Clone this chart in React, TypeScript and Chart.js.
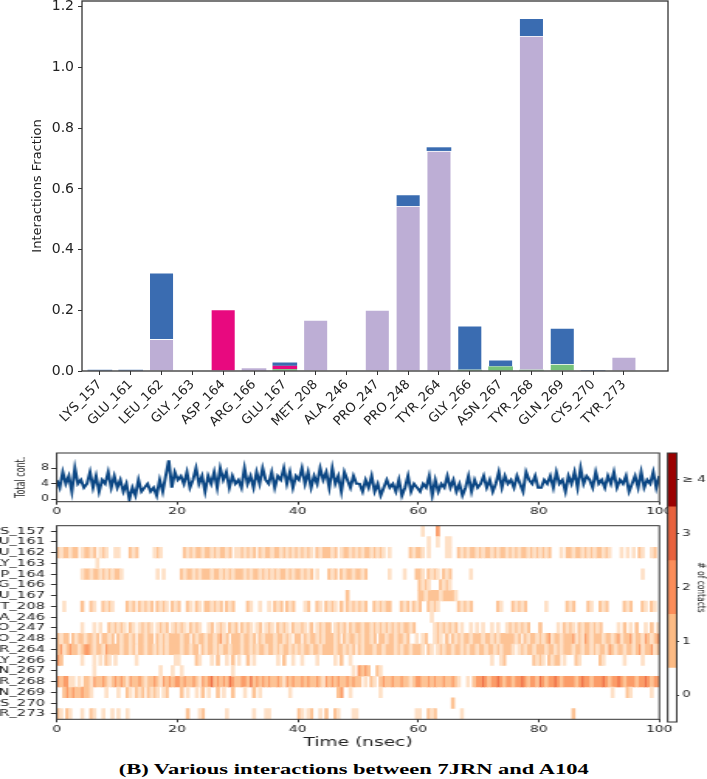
import React, { useEffect, useRef } from "react";
import { Chart, registerables } from "chart.js";
Chart.register(...registerables);

// ---------- Top panel: interaction fractions ----------
const residues = ["LYS_157", "GLU_161", "LEU_162", "GLY_163", "ASP_164", "ARG_166", "GLU_167", "MET_208", "ALA_246", "PRO_247", "PRO_248", "TYR_264", "GLY_266", "ASN_267", "TYR_268", "GLN_269", "CYS_270", "TYR_273"];
const hBonds = [0, 0, 0, 0, 0, 0, 0.006, 0, 0, 0, 0, 0, 0.004, 0.015, 0.004, 0.023, 0, 0];
const hydrophobic = [0, 0, 0.105, 0, 0, 0.009, 0, 0.168, 0, 0.201, 0.544, 0.725, 0, 0, 1.1, 0, 0, 0.046];
const ionic = [0, 0, 0, 0, 0.203, 0, 0.011, 0, 0, 0, 0, 0, 0, 0, 0, 0, 0, 0];
const waterBridges = [0.004, 0.004, 0.219, 0, 0, 0, 0.011, 0, 0, 0, 0.038, 0.012, 0.145, 0.022, 0.058, 0.119, 0.003, 0];
const fractionTicks = [0, 0.2, 0.4, 0.6, 0.8, 1.0, 1.2];

// ---------- Bottom panels: contact timeline ----------
const timeTicks = [0, 20, 40, 60, 80, 100];
const totalTicks = [0, 4, 8];
// total contacts, one value per 0.5 ns (A = 10)
const totalContacts =
  "5374628453 4736254736 3524031523 4231526A37 5647358462 6473857364 5384637485 4736584736 5847364857 3846275364 " +
  "4253624135 3425136243 2436152436 3524136253 4635247364 5364275463 3546374526 4738465374 5364735462 4637354736";

// per residue, one char per 0.5 ns: "." none, "a" brief contact, "1".."4" number of contacts
const E = "..........";
const contactRows = [
  [E, E, E, E, E, E, E, E, E, E, E, E, ".a....2...", E, E, E, E, E, E, E],
  [E, E, E, E, E, E, E, E, E, E, E, E, "...a..a..a", "a.........", E, E, E, E, E, E],
  ["1a11a11.a1", "1a1.a1a..a", "a...1a1...", "..a1a.....", "..1a1a11a1", "1a1a11a1.a", "a1a1a1.1a1", "1a11a1a1a1", "a1a1a.1a11", "1a1.a11a1a",
   "1a11a1a1a.", "a......1a1", "1a.a.....a", "a..1a1a11a", "1a11a1a11a", "1a1a11a1a1", "a1a1...a.1", "1a11a1a1a1", "1a1a...a.a", ".a.1a..a1."],
  [E, "...a......", E, E, E, E, E, E, E, E, E, E, E, E, E, E, E, E, E, E],
  ["........a1", "1a11a1a1a1", "1a........", "...a.a....", ".1a11a1a11", "1a11a1a1a1", "11a1a11a1a", "1a1a11a1a1", "1a1a1.a...", "1a1.1a11a1",
   "1a1.......", "a....a...1", "1a.1a1a.1a", "1......a..", E, E, E, E, E, "....a....."],
  [E, E, E, E, E, E, E, E, E, E, E, E, "1a1a...1a1", "a.........", E, E, E, E, E, E],
  [E, E, E, E, E, E, E, E, E, "......1...", E, E, "11a1111a11", "11a.......", E, E, E, E, E, E],
  ["..a.....1.", ".1a..1a1a.", "...1a1.1a1", "a1.1a1a.1a", "1..1a.1a.1", "1a1a1.1a1.", "...1a..a..", "a.1a1.1a1.", "..a1..1a.1", "a1a.1.1a1a",
   "1a1..1a1a1", "1...1a1.1a", "1..1a1a...", "...1a1a1..", "......1a..", ".1a1a1....", "..a......1", "a1....1a..", "1a1.....1a", "1...1a.1a."],
  [E, E, E, E, E, E, E, E, E, E, E, E, "....a.....", E, E, E, E, E, E, E],
  ["........a.", "..a.a..1a1", "a1a.1a.a1a", "1a.a1a1.a1", "a1a.1a1a..", "a1.a1a.1a1", ".1a1a.a1.a", "1a.1a1a.1a", "a1a.1.a1a1", "1.a1a1.1a1",
   "1a11a1a1a1", "a1a1a11a1.", ".....a1a1a", "1a1.a..a.a", ".a..a.a..a", "1a1a1a1...", "1.....a.1a", "1a.1a11a1a", "1.....a.1.", "a.1..a.1.a"],
  ["1a11.1a11a", "11a1.11a1.", "1a11a1.11a", "11.1a1a111", "1a11.1a11a", "11a12a1.11", "1a11a1.1a1", "11a11a1a.1", "1.1a11a1a1", "11a1.1a11a",
   "1a11a1.11a", "11a11a1..a", ".a1..a1a.1", ".1a1a11a11", "1a11a1a111", "11a1.1a11a", "1a12a11a11", "12a1a21a11", "1a11a12a11", "2a11a21a12"],
  ["12a1211a12", "21a11a2111", "1a11a1.11a", "11a1a1a111", "1a11a11.1a", "11a1a11a11", "1a11a1a11a", "11a1a11a1a", "1a11a11a11", "11a11a1a1.",
   "1a111a11a1", "11a1a11a11", "1a.1a.a1a1", "1a11a1a11a", "11a11a1a11", "1a.a1a11a1", "11a11a1a11", "1a11a11a1a", "11a21a11a1", "1a12a112a1"],
  ["21......a.", "..a.a.1a.a", "......a...", ".........a", "a.....1a..", ".a.1..a.1.", "a..1.a....", "...a.1..a.", ".a....a...", "..a.1..a..",
   E, E, E, E, "....a..a1.", "........1a", "1a.1a11.a.", "..1a......", "1a......a.", "....a....."],
  [E, "..a.......", E, "....a...a.", ".a........", "........a.", E, E, E, "........a.", "2121..1a..", E, E, E, E, E, E, E, E, E],
  ["2122aa.a.1", "1a21121a12", "121a21121a", "1121a21212", "2121121a21", "2312121321", "1221312121", "21121a2121", "12121121a2", "1212112121",
   "1.a.1a.121", "1211211a12", "2112121121", "121a..a.12", "2321223212", "2122321221", "3212232122", "2212322122", "2321223212", "2212232122"],
  ["..12121121", "1a....a...", "a..1a.1a1.", "1a1a.a1...", ".1.a..a.1.", "a..1.a..1.", "..a..1.a..", ".......a..", E, "...12..a..",
   ".......a..", E, E, E, E, E, E, E, "....a....1", "a......a.."],
  [E, E, E, E, E, E, E, E, E, E, E, E, E, ".1........", E, E, E, E, E, E],
  ["1a.1a...a.", ".1a..a..a.", "a..a......", E, "...1...a1.", "......a...", ".....a...a", "a.........", "1a.a1..a.1", "..1a....aa",
   E, ".........a", "a..1a1....", "....a.....", E, E, E, ".1........", E, E],
];
const contactLevels = ["0", "1", "2", "3", "\u2265 4"];

// ---------- layout helpers ----------
const W = 707;
const IW = 456; // internal width of the horizontally stretched lower canvases
const K = IW / W;

const framePlugin = {
  id: "frame",
  afterDraw(chart: any, _args: any, opts: any) {
    const { ctx, chartArea: a } = chart;
    ctx.save();
    ctx.strokeStyle = opts.color || "#333";
    ctx.lineWidth = opts.width || 1;
    ctx.strokeRect(a.left, a.top, a.right - a.left, a.bottom - a.top);
    ctx.restore();
  },
};

const fixSize = (size: number) => (scale: any) => {
  if (scale.isHorizontal()) scale.height = size;
  else scale.width = size;
  scale.paddingLeft = 0;
  scale.paddingRight = 0;
  scale.paddingTop = 0;
  scale.paddingBottom = 0;
};
const setTicks = (vals: number[]) => (scale: any) => {
  scale.ticks = vals.map((v) => ({ value: v }));
};

const heatColors: Record<string, string> = { a: "#fee0c6", "1": "#fdc395", "2": "#fb9c68", "3": "#ee7048", "4": "#a00000" };
const barColors = { hBonds: "#76c27a", hydrophobic: "#bdaed5", ionic: "#e8097f", water: "#3a6cb1" };
const colorbarColors = ["#ffffff", "#fdbb84", "#fc8d59", "#e8623e", "#9b0000"];

function parseRow(groups: string[]): string[] {
  const cells = new Array(200).fill(".");
  groups.forEach((g, gi) => {
    for (let k = 0; k < 10 && k < g.length; k++) cells[gi * 10 + k] = g[k];
  });
  return cells;
}

export default function App() {
  const topRef = useRef<HTMLCanvasElement>(null);
  const totRef = useRef<HTMLCanvasElement>(null);
  const heatRef = useRef<HTMLCanvasElement>(null);
  const cbRef = useRef<HTMLCanvasElement>(null);

  useEffect(() => {
    Chart.defaults.font.family = "'DejaVu Sans', sans-serif";
    Chart.defaults.color = "#222";
    const charts: Chart[] = [];
    const noPlug = { legend: { display: false }, tooltip: { enabled: false } };

    // ---- top stacked bar chart
    const series = [
      { d: hBonds, c: barColors.hBonds },
      { d: hydrophobic, c: barColors.hydrophobic },
      { d: ionic, c: barColors.ionic },
      { d: waterBridges, c: barColors.water },
    ];
    charts.push(
      new Chart(topRef.current!, {
        type: "bar",
        data: {
          datasets: series.map((s) => ({
            data: s.d.map((v, i) => ({ x: i, y: v })),
            backgroundColor: s.c,
            borderColor: "#ffffff",
            borderWidth: (ctx: any) => ((ctx.raw && ctx.raw.y) > 0.02 ? 0.8 : 0),
            categoryPercentage: 0.8,
            barPercentage: 1,
          })) as any,
        },
        options: {
          responsive: false,
          animation: false,
          layout: { padding: { left: 0, top: 1, right: 39, bottom: 0 } },
          plugins: { ...noPlug, frame: { color: "#333", width: 1.3 } } as any,
          scales: {
            x: {
              type: "linear",
              min: -0.58,
              max: 18.43,
              stacked: true,
              offset: false,
              afterBuildTicks: setTicks(residues.map((_, i) => i)),
              afterFit: fixSize(74),
              ticks: {
                callback: (v: any) => residues[v] ?? "",
                autoSkip: false,
                minRotation: 45,
                maxRotation: 45,
                font: { size: 13 },
                padding: 2,
              },
              grid: { offset: false, drawOnChartArea: false, tickLength: 4, color: "#333" },
              border: { display: false },
            },
            y: {
              stacked: true,
              min: 0,
              max: 1.219,
              afterBuildTicks: setTicks(fractionTicks),
              afterFit: fixSize(82),
              ticks: { callback: (v: any) => Number(v).toFixed(1), font: { size: 14 }, padding: 4 },
              grid: { drawOnChartArea: false, tickLength: 4, color: "#333" },
              border: { display: false },
              title: { display: true, text: "Interactions Fraction", font: { size: 13 }, padding: { top: 30, bottom: 0 } },
            },
          } as any,
        },
        plugins: [framePlugin],
      })
    );

    // ---- total contacts line
    const totVals = totalContacts.replace(/\s+/g, "").split("").map((ch) => (ch === "A" ? 10 : Number(ch)));
    const totPts = totVals.map((v, i) => ({ x: (i * 100) / (totVals.length - 1), y: v }));
    charts.push(
      new Chart(totRef.current!, {
        type: "line",
        data: { datasets: [{ data: totPts, borderColor: "#0c4784", borderWidth: 2, pointRadius: 0, tension: 0 }] },
        options: {
          responsive: false,
          animation: false,
          layout: { padding: { left: 0, top: 8, right: (W - 659.3) * K, bottom: 0 } },
          plugins: { ...noPlug, frame: { color: "#333", width: 1 } } as any,
          scales: {
            x: {
              type: "linear",
              min: 0,
              max: 100,
              afterBuildTicks: setTicks(timeTicks),
              afterFit: fixSize(18.3),
              ticks: { font: { size: 9 }, padding: 2, maxRotation: 0 },
              grid: { drawOnChartArea: false, tickLength: 3, color: "#333" },
              border: { display: false },
            },
            y: {
              type: "linear",
              min: -0.6,
              max: 11.9,
              afterBuildTicks: setTicks(totalTicks),
              afterFit: fixSize(56.7 * K),
              ticks: { font: { size: 8 }, padding: 1.5 },
              grid: { drawOnChartArea: false, tickLength: 3.5, color: "#333" },
              border: { display: false },
              title: { display: true, text: "Total cont.", font: { size: 8 }, padding: { top: 9.4, bottom: 0 } },
            },
          } as any,
        },
        plugins: [framePlugin],
      })
    );

    // ---- heatmap of contacts per residue
    const levelKeys = ["a", "1", "2", "3", "4"];
    const levelData: Record<string, any[]> = { a: [], "1": [], "2": [], "3": [], "4": [] };
    contactRows.forEach((groups, r) => {
      const cells = parseRow(groups);
      let i = 0;
      while (i < cells.length) {
        const c = cells[i];
        let j = i + 1;
        while (j < cells.length && cells[j] === c) j++;
        if (levelData[c]) levelData[c].push({ x: [i * 0.5, j * 0.5], y: residues[r] });
        i = j;
      }
    });
    charts.push(
      new Chart(heatRef.current!, {
        type: "bar",
        data: {
          labels: residues,
          datasets: levelKeys.map((k) => ({
            data: levelData[k],
            backgroundColor: heatColors[k],
            borderWidth: 0,
            grouped: false,
            barPercentage: 1,
            categoryPercentage: 1,
          })) as any,
        },
        options: {
          indexAxis: "y",
          responsive: false,
          animation: false,
          layout: { padding: { left: 0, top: 5.7, right: (W - 659.3) * K, bottom: 0 } },
          plugins: { ...noPlug, frame: { color: "#333", width: 1 } } as any,
          scales: {
            x: {
              type: "linear",
              min: 0,
              max: 100,
              position: "bottom",
              afterBuildTicks: setTicks(timeTicks),
              afterFit: fixSize(40.7),
              ticks: { font: { size: 9 }, padding: 1.7, maxRotation: 0 },
              grid: { drawOnChartArea: false, tickLength: 3, color: "#333" },
              border: { display: false },
              title: { display: true, text: "Time (nsec)", font: { size: 12 }, padding: { top: 0, bottom: 10.3 } },
            },
            y: {
              type: "category",
              offset: true,
              afterFit: fixSize(56.7 * K),
              ticks: { font: { size: 9.5 }, padding: 3.9, autoSkip: false },
              grid: { offset: false, drawOnChartArea: false, tickLength: 3.7, color: "#333" },
              border: { display: false },
            },
          } as any,
        },
        plugins: [framePlugin],
      })
    );

    // ---- colorbar
    charts.push(
      new Chart(cbRef.current!, {
        type: "bar",
        data: {
          labels: ["contacts"],
          datasets: colorbarColors.map((c) => ({
            data: [1],
            backgroundColor: c,
            borderWidth: 0,
            barPercentage: 1,
            categoryPercentage: 1,
          })),
        },
        options: {
          responsive: false,
          animation: false,
          layout: { padding: { left: 667.7 * K, top: 8, right: 0, bottom: 13 } },
          plugins: { ...noPlug, frame: { color: "#333", width: 1 } } as any,
          scales: {
            x: { display: false, stacked: true },
            y: {
              stacked: true,
              position: "right",
              min: 0,
              max: 5,
              afterBuildTicks: setTicks([0.5, 1.5, 2.5, 3.5, 4.5]),
              afterFit: fixSize((W - 676.7) * K),
              ticks: { callback: (_v: any, i: number) => contactLevels[i], font: { size: 8.5 }, padding: 2 },
              grid: { drawOnChartArea: false, tickLength: 1.5, color: "#333" },
              border: { display: false },
              title: { display: true, text: "# of contacts", font: { size: 7.5 }, padding: 0 },
            },
          } as any,
        },
        plugins: [framePlugin],
      })
    );

    return () => charts.forEach((c) => c.destroy());
  }, []);

  const abs = (top: number, h: number): React.CSSProperties => ({ position: "absolute", left: 0, top, width: W, height: h });

  return (
    <div style={{ position: "absolute", left: 0, top: 0, width: W, height: 779, background: "#fff", overflow: "hidden" }}>
      <canvas ref={topRef} width={W} height={445} style={abs(0, 445)} />
      <canvas ref={totRef} width={IW} height={75} style={abs(445, 75)} />
      <canvas ref={heatRef} width={IW} height={240} style={abs(520, 240)} />
      <canvas ref={cbRef} width={IW} height={290} style={abs(445, 290)} />
      <div
        style={{
          position: "absolute",
          left: 0,
          top: 761,
          width: W,
          textAlign: "center",
          fontFamily: "'Liberation Serif', 'Times New Roman', serif",
          fontWeight: "bold",
          fontSize: 15,
          lineHeight: "17px",
          color: "#000",
        }}
      >
        <span style={{ display: "inline-block", transform: "scaleX(1.5)", transformOrigin: "center" }}>
          (B) Various interactions between 7JRN and A104
        </span>
      </div>
    </div>
  );
}
